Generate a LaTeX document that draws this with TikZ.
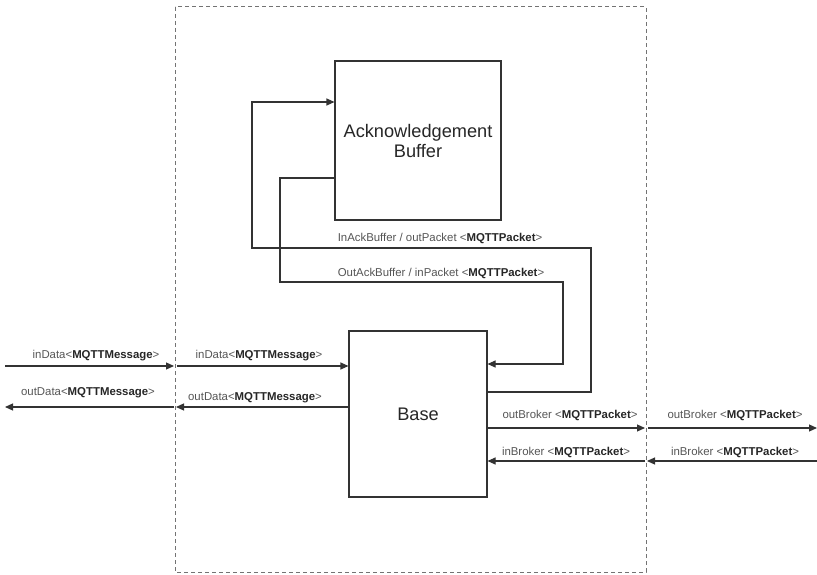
\documentclass[tikz,border=0pt]{standalone}
\usepackage{fontspec}
\setmainfont{Liberation Sans}
\usetikzlibrary{arrows.meta}
\definecolor{lbl}{HTML}{555555}
\definecolor{lne}{HTML}{333333}
\begin{document}
\begin{tikzpicture}[x=1pt,y=-1pt,
  box/.style={draw=lne, line width=1.1pt, inner sep=0pt, align=center, font=\fontsize{18.2}{20}\selectfont, text=black!85},
  arr/.style={draw=lne, line width=1.1pt, -{Triangle[length=8pt,width=7pt]}},
  lab/.style={font=\fontsize{11.4}{13}\selectfont, text=lbl, inner sep=0pt, anchor=base}]
\useasboundingbox (0,0) rectangle (817,575);
% frame
\draw[gray!90!black, line width=1pt, dash pattern=on 4pt off 3pt] (175,7) rectangle (646,572);
% boxes
\node[box, minimum width=166pt, minimum height=159pt] (ack) at (418,140.5) {Acknowledgement\\Buffer};
\node[box, minimum width=138pt, minimum height=166pt] (base) at (418,414) {Base};
% named coordinates
\coordinate (fL1) at (175,366);
\coordinate (fL2) at (175,407);
\coordinate (fR1) at (646,428);
\coordinate (fR2) at (646,461);
\coordinate (eL1) at (5,366);
\coordinate (eL2) at (5,407);
\coordinate (eR1) at (817,428);
\coordinate (eR2) at (817,461);
\coordinate (a1) at (591,392);
\coordinate (a2) at (591,248);
\coordinate (a3) at (252,248);
\coordinate (a4) at (252,102);
\coordinate (b1) at (280,178);
\coordinate (b2) at (280,282);
\coordinate (b3) at (563,282);
\coordinate (b4) at (563,364);
% left side
\draw[arr] (eL1) -- ([xshift=-1pt]fL1);
\draw[arr] ([xshift=2pt]fL1) -- (base.west |- fL1);
\draw[arr] (base.west |- fL2) -- ([xshift=1pt]fL2);
\draw[arr] ([xshift=-1pt]fL2) -- (eL2);
% right side
\draw[arr] (base.east |- fR1) -- ([xshift=-1pt]fR1);
\draw[arr] ([xshift=2pt]fR1) -- (eR1);
\draw[arr] (eR2) -- ([xshift=1pt]fR2);
\draw[arr] ([xshift=-1pt]fR2) -- (base.east |- fR2);
% feedback loops
\draw[arr] (base.east |- a1) -- (a1) -- (a2) -- (a3) -- (a4) -- (ack.west |- a4);
\draw[arr] (ack.west |- b1) -- (b1) -- (b2) -- (b3) -- (b4) -- (base.east |- b4);
% labels
\node[lab] (t1) at (96,358) {inData<\textcolor{black!85}{\textbf{MQTTMessage}}>};
\node[lab] (t2) at (259,358) {inData<\textcolor{black!85}{\textbf{MQTTMessage}}>};
\node[lab] (t3) at (88,395) {outData<\textcolor{black!85}{\textbf{MQTTMessage}}>};
\node[lab] (t4) at (255,400) {outData<\textcolor{black!85}{\textbf{MQTTMessage}}>};
\node[lab] (t5) at (570,418) {outBroker <\textcolor{black!85}{\textbf{MQTTPacket}}>};
\node[lab] (t6) at (735,418) {outBroker <\textcolor{black!85}{\textbf{MQTTPacket}}>};
\node[lab] (t7) at (566,455) {inBroker <\textcolor{black!85}{\textbf{MQTTPacket}}>};
\node[lab] (t8) at (735,455) {inBroker <\textcolor{black!85}{\textbf{MQTTPacket}}>};
\node[lab] (t9) at (440,241) {InAckBuffer / outPacket <\textcolor{black!85}{\textbf{MQTTPacket}}>};
\node[lab] (t10) at (441,276) {OutAckBuffer / inPacket <\textcolor{black!85}{\textbf{MQTTPacket}}>};
\end{tikzpicture}
\end{document}
